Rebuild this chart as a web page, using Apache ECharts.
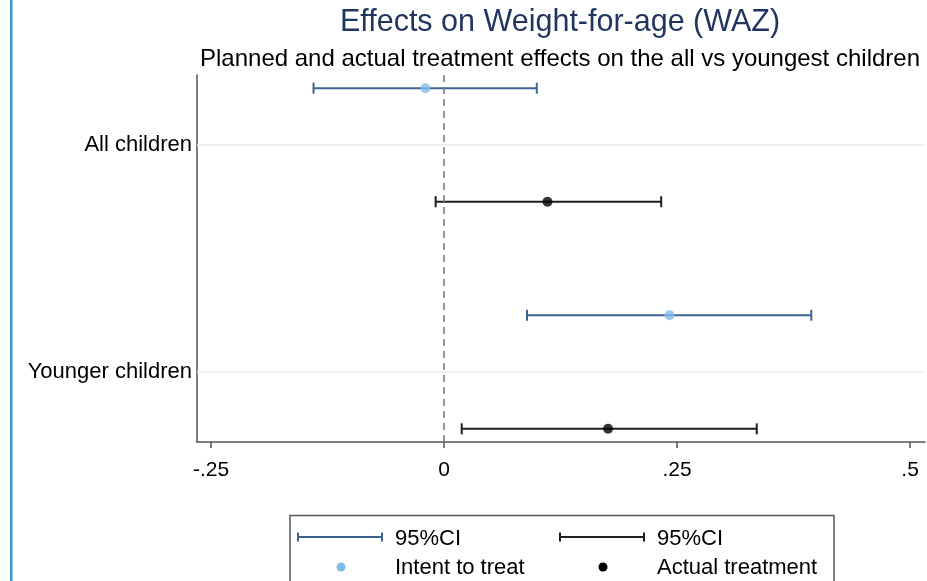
<!DOCTYPE html>
<html>
<head>
<meta charset="utf-8">
<script src="https://cdn.jsdelivr.net/npm/echarts@6/dist/echarts.min.js"></script>
<style>html,body{margin:0;padding:0;background:#fff}#c{width:927px;height:581px}</style>
</head>
<body>
<div id="c"></div>
<script>
const groups = ['All children', 'Younger children'];
const ittEst = [-0.020, 0.242];
const ittLo = [-0.140, 0.089];
const ittHi = [0.0995, 0.394];
const actEst = [0.111, 0.176];
const actLo = [-0.009, 0.019];
const actHi = [0.233, 0.3355];
const xTicks = [-0.25, 0, 0.25, 0.5];
const titleText = 'Effects on Weight-for-age (WAZ)';
const subtitleText = 'Planned and actual treatment effects on the all vs youngest children';

const FONT = '"Liberation Sans", Arial, sans-serif';
const offset = 0.25;
const ittPos = groups.map((g, i) => i + 1 - offset);
const actPos = groups.map((g, i) => i + 1 + offset);

function fmtTick(v) {
  if (v === 0) return '0';
  let s = String(v);
  return s.replace(/^(-?)0\./, '$1.');
}

function ciRender(color) {
  return function (params, api) {
    const a = api.coord([api.value(0), api.value(2)]);
    const b = api.coord([api.value(1), api.value(2)]);
    const h = 5.5;
    const st = { stroke: color, lineWidth: 2 };
    return {
      type: 'group',
      children: [
        { type: 'line', shape: { x1: a[0], y1: a[1], x2: b[0], y2: b[1] }, style: st },
        { type: 'line', shape: { x1: a[0], y1: a[1] - h, x2: a[0], y2: a[1] + h }, style: st },
        { type: 'line', shape: { x1: b[0], y1: b[1] - h, x2: b[0], y2: b[1] + h }, style: st }
      ]
    };
  };
}

const ittColor = '#3a6592';
const ittDot = '#7fbde9';
const actColor = '#1e1e1e';
const actDot = '#000000';

const chart = echarts.init(document.getElementById('c'), null, { renderer: 'canvas' });
chart.setOption({
  animation: false,
  backgroundColor: '#ffffff',
  grid: { left: 197, right: 2, top: 75, bottom: 139, containLabel: false },
  xAxis: {
    type: 'value',
    min: -0.265,
    max: 0.516,
    axisLine: { show: true, onZero: false, lineStyle: { color: '#555', width: 1.5 } },
    axisTick: { show: true, customValues: xTicks, length: 6, lineStyle: { color: '#555', width: 1.5 } },
    axisLabel: { customValues: xTicks, formatter: fmtTick, color: '#000', fontSize: 21, fontFamily: FONT, margin: 18 },
    splitLine: { show: false }
  },
  yAxis: {
    type: 'value',
    inverse: true,
    min: 0.692,
    max: 2.308,
    axisLine: { show: true, onZero: false, lineStyle: { color: '#555', width: 1.5 } },
    axisTick: { show: false },
    axisLabel: {
      customValues: groups.map((g, i) => i + 1),
      formatter: v => groups[Math.round(v) - 1] || '',
      color: '#000', fontSize: 22, fontFamily: FONT, margin: 5
    },
    splitLine: { show: false }
  },
  series: [
    {
      type: 'custom',
      name: 'ITT CI',
      renderItem: ciRender(ittColor),
      data: groups.map((g, i) => [ittLo[i], ittHi[i], ittPos[i]]),
      encode: { x: [0, 1], y: 2 },
      z: 3,
      markLine: {
        silent: true,
        symbol: 'none',
        label: { show: false },
        lineStyle: { color: '#e4eeee', width: 1.5, type: 'solid' },
        data: groups.map((g, i) => ({ yAxis: i + 1 }))
      }
    },
    {
      type: 'custom',
      name: 'Actual CI',
      renderItem: ciRender(actColor),
      data: groups.map((g, i) => [actLo[i], actHi[i], actPos[i]]),
      encode: { x: [0, 1], y: 2 },
      z: 3,
      markLine: {
        silent: true,
        symbol: 'none',
        label: { show: false },
        lineStyle: { color: '#777', width: 1.5, type: [7, 5] },
        data: [{ xAxis: 0 }]
      }
    },
    {
      type: 'scatter',
      name: 'Intent to treat',
      symbolSize: 10,
      itemStyle: { color: ittDot },
      data: groups.map((g, i) => [ittEst[i], ittPos[i]]),
      z: 5
    },
    {
      type: 'scatter',
      name: 'Actual treatment',
      symbolSize: 10,
      itemStyle: { color: actDot },
      data: groups.map((g, i) => [actEst[i], actPos[i]]),
      z: 5
    }
  ],
  graphic: [
    { type: 'rect', shape: { x: 10, y: 0, width: 2.5, height: 581 }, style: { fill: '#3d9ad1' } },
    { type: 'text', x: 560, y: 23, style: { text: titleText, fill: '#1f355f', font: '30.5px ' + FONT, textAlign: 'center', textVerticalAlign: 'middle' } },
    { type: 'text', x: 560, y: 59, style: { text: subtitleText, fill: '#000', font: '24px ' + FONT, textAlign: 'center', textVerticalAlign: 'middle' } },
    { type: 'rect', shape: { x: 290, y: 515.5, width: 544, height: 80 }, style: { fill: 'none', stroke: '#555', lineWidth: 1.5 } },
    { type: 'line', shape: { x1: 298, y1: 537, x2: 382, y2: 537 }, style: { stroke: ittColor, lineWidth: 2 } },
    { type: 'line', shape: { x1: 298, y1: 532.5, x2: 298, y2: 541.5 }, style: { stroke: ittColor, lineWidth: 2 } },
    { type: 'line', shape: { x1: 382, y1: 532.5, x2: 382, y2: 541.5 }, style: { stroke: ittColor, lineWidth: 2 } },
    { type: 'text', x: 395, y: 539, style: { text: '95%CI', fill: '#000', font: '22px ' + FONT, textVerticalAlign: 'middle' } },
    { type: 'line', shape: { x1: 560, y1: 537, x2: 644, y2: 537 }, style: { stroke: actColor, lineWidth: 2 } },
    { type: 'line', shape: { x1: 560, y1: 532.5, x2: 560, y2: 541.5 }, style: { stroke: actColor, lineWidth: 2 } },
    { type: 'line', shape: { x1: 644, y1: 532.5, x2: 644, y2: 541.5 }, style: { stroke: actColor, lineWidth: 2 } },
    { type: 'text', x: 657, y: 539, style: { text: '95%CI', fill: '#000', font: '22px ' + FONT, textVerticalAlign: 'middle' } },
    { type: 'circle', shape: { cx: 341, cy: 567, r: 4.5 }, style: { fill: ittDot } },
    { type: 'text', x: 395, y: 568, style: { text: 'Intent to treat', fill: '#000', font: '22px ' + FONT, textVerticalAlign: 'middle' } },
    { type: 'circle', shape: { cx: 603, cy: 567, r: 4.5 }, style: { fill: actDot } },
    { type: 'text', x: 657, y: 568, style: { text: 'Actual treatment', fill: '#000', font: '22px ' + FONT, textVerticalAlign: 'middle' } }
  ]
});
</script>
</body>
</html>
